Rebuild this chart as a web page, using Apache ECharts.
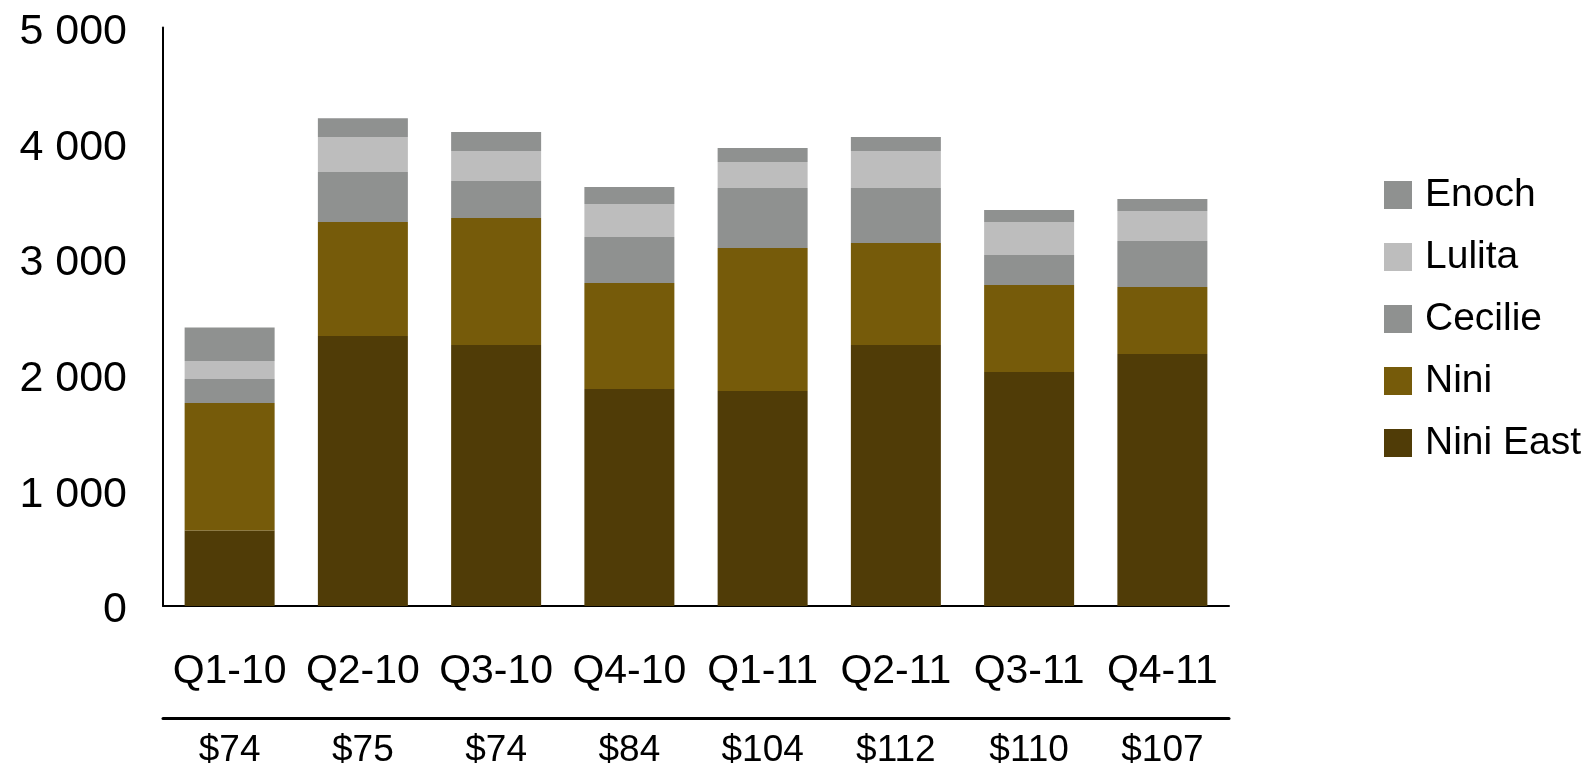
<!DOCTYPE html>
<html>
<head>
<meta charset="utf-8">
<script src="https://cdn.jsdelivr.net/npm/echarts@6/dist/echarts.min.js"></script>
<style>
  html, body { margin: 0; padding: 0; background: #fff; }
  #chart { width: 1592px; height: 780px; }
</style>
</head>
<body>
<div id="chart"></div>
<script>
const quarters = ['Q1-10', 'Q2-10', 'Q3-10', 'Q4-10', 'Q1-11', 'Q2-11', 'Q3-11', 'Q4-11'];
const prices = ['$74', '$75', '$74', '$84', '$104', '$112', '$110', '$107'];

// stacked from bottom to top
const niniEast = [653, 2334, 2256, 1876, 1858, 2256, 2022, 2178];
const nini = [1102, 985, 1097, 916, 1236, 881, 752, 579];
const cecilie = [207, 432, 320, 397, 519, 476, 260, 398];
const lulita = [156, 303, 260, 285, 225, 320, 285, 259];
const enoch = [289, 161, 164, 147, 120, 121, 104, 104];

const FONT = "'Liberation Sans', Arial, sans-serif";

const chart = echarts.init(document.getElementById('chart'));

const bar = (name, data, color) => ({
  name: name,
  type: 'bar',
  stack: 'total',
  barWidth: 90,
  data: data,
  itemStyle: { color: color },
  emphasis: { disabled: true },
});

chart.setOption({
  animation: false,
  textStyle: { fontFamily: FONT },
  grid: { left: 163, right: 363, top: 27.5, bottom: 174 },
  legend: {
    orient: 'vertical',
    left: 1379,
    top: 170,
    itemWidth: 28,
    itemHeight: 28,
    itemGap: 22,
    icon: 'rect',
    data: ['Enoch', 'Lulita', 'Cecilie', 'Nini', 'Nini East'],
    textStyle: { fontSize: 39, color: '#000', fontFamily: FONT, lineHeight: 40, padding: [0, 0, 0, 8] },
  },
  xAxis: [
    {
      type: 'category',
      data: quarters,
      axisLine: { lineStyle: { color: '#000', width: 2 } },
      axisTick: { show: false },
      axisLabel: { interval: 0, fontSize: 41, color: '#000', margin: 45, fontFamily: FONT },
    },
    {
      type: 'category',
      data: prices,
      position: 'bottom',
      offset: 112,
      axisLine: { lineStyle: { color: '#000', width: 3 } },
      axisTick: { show: false },
      axisLabel: { interval: 0, fontSize: 37, color: '#000', margin: 14, fontFamily: FONT },
    },
  ],
  yAxis: {
    type: 'value',
    min: 0,
    max: 5000,
    interval: 1000,
    axisLine: { show: true, lineStyle: { color: '#000', width: 2 } },
    axisTick: { show: false },
    splitLine: { show: false },
    axisLabel: {
      color: '#000',
      margin: 36,
      fontFamily: FONT,
      formatter: (v) => '{t|' + String(v).replace(/\B(?=(\d{3})+(?!\d))/g, ' ') + '}',
      rich: {
        t: { fontSize: 43, color: '#000', fontFamily: FONT, padding: [9, 0, 0, 0] },
      },
    },
  },
  series: [
    bar('Nini East', niniEast, '#503c07'),
    bar('Nini', nini, '#765b0a'),
    bar('Cecilie', cecilie, '#8f9190'),
    bar('Lulita', lulita, '#bdbdbd'),
    bar('Enoch', enoch, '#8f9190'),
  ],
});
</script>
</body>
</html>
